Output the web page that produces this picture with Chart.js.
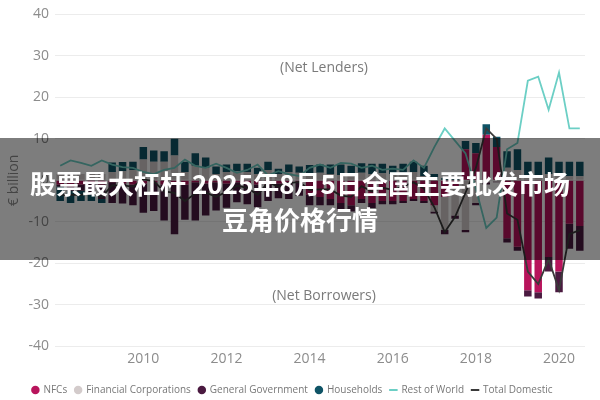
<!DOCTYPE html>
<html><head><meta charset="utf-8">
<script src="https://cdn.jsdelivr.net/npm/chart.js@4.4.1/dist/chart.umd.min.js"></script>
<style>
html,body{margin:0;padding:0;background:#fff;}
#wrap{position:relative;width:600px;height:400px;overflow:hidden;}
canvas{display:block;}
#band{position:absolute;left:0;top:138px;width:600px;height:122px;background:rgba(0,0,0,0.51);}
.t{position:absolute;left:0;width:600px;text-align:center;color:#fff;font-family:"Noto Sans CJK SC",sans-serif;font-weight:bold;font-size:26px;line-height:30px;white-space:nowrap;}
</style></head>
<body><div id="wrap"><canvas id="c" width="600" height="400"></canvas>
<div id="band"><div class="t" style="top:30px">股票最大杠杆 2025年8月5日全国主要批发市场</div><div class="t" style="top:66px">豆角价格行情</div></div></div>
<script>
const quarters = ['2008Q1','2008Q2','2008Q3','2008Q4','2009Q1','2009Q2','2009Q3','2009Q4',
'2010Q1','2010Q2','2010Q3','2010Q4','2011Q1','2011Q2','2011Q3','2011Q4',
'2012Q1','2012Q2','2012Q3','2012Q4','2013Q1','2013Q2','2013Q3','2013Q4',
'2014Q1','2014Q2','2014Q3','2014Q4','2015Q1','2015Q2','2015Q3','2015Q4',
'2016Q1','2016Q2','2016Q3','2016Q4','2017Q1','2017Q2','2017Q3','2017Q4',
'2018Q1','2018Q2','2018Q3','2018Q4','2019Q1','2019Q2','2019Q3','2019Q4',
'2020Q1','2020Q2','2020Q3'];
const tickYears = ['2010','2012','2014','2016','2018','2020'];
const nfcs = [-1.0,-1.5,-1.0,-0.5,-1.0,-0.5,-0.8,-1.0,
-0.8,-0.5,-1.0,-1.0,-1.0,-0.5,-0.8,-0.5,
-0.8,-0.5,-0.8,-1.0,-1.0,-0.8,-0.5,-0.5,
-3.5,-4.0,-4.5,-5.5,-6.0,-4.5,-5.5,-5.0,
-5.0,-5.0,-4.5,-5.0,-6.0,-4.0,-1.5,7.5,
6.5,11.0,8.0,-14.0,-16.0,-26.5,-27.0,-18.5,
-22.0,-10.5,-11.0];
const financial = [1.5,2.0,1.5,2.0,1.5,2.0,2.2,2.5,
5.0,4.5,4.5,6.0,2.0,3.5,3.0,1.5,
2.0,2.2,2.0,1.5,2.5,1.5,2.0,1.8,
1.5,1.8,1.5,1.3,1.5,1.8,1.5,1.7,
1.5,1.8,2.0,1.0,-1.5,-8.0,-7.0,-12.0,
-5.5,-0.5,-0.3,3.0,2.5,1.0,1.0,1.5,
1.0,1.0,1.0];
const government = [-0.5,-1.0,-1.5,-3.0,-3.5,-5.0,-4.8,-5.0,
-7.0,-6.9,-8.7,-12.0,-8.5,-9.2,-7.7,-6.8,
-5.8,-4.8,-5.0,-5.5,-4.0,-3.5,-4.0,-3.2,
-2.5,-2.0,-1.5,-2.0,-1.5,-1.0,-1.2,-0.8,
-0.8,-0.5,-0.5,-0.5,-0.5,-1.0,-0.8,-0.5,
-0.5,-0.5,-0.2,-1.0,-1.0,-1.5,-1.5,-3.5,
-5.0,-6.0,-6.0];
const households = [-3.5,-3.0,-2.5,-1.5,-1.0,2.3,2.2,2.0,
3.0,2.7,2.5,4.0,2.5,3.0,2.5,1.8,
1.8,1.8,2.0,1.5,2.0,1.3,1.8,1.5,
2.2,2.0,2.3,2.5,2.0,2.3,2.5,2.3,
2.0,2.2,2.5,2.5,1.5,0.5,0.5,2.0,
2.5,2.5,2.5,4.0,5.0,3.5,3.5,4.0,
3.5,3.5,3.5];
const restOfWorld = [3.5,4.8,4.2,3.5,4.8,3.8,3.2,3.0,
2.0,1.5,2.5,3.0,5.0,3.5,3.0,4.0,
3.0,1.8,2.5,3.8,1.2,2.2,1.5,1.0,
3.0,3.8,3.0,4.2,4.0,3.0,3.5,2.5,
2.8,2.5,4.8,3.0,8.0,12.5,9.5,6.5,
-2.0,-11.5,-9.0,7.5,9.0,24.0,25.0,17.0,
26.0,12.5,12.5];
const totalDomestic = [-3.5,-3.5,-3.5,-3.0,-4.0,-1.2,-1.2,-1.5,
0.2,-0.2,-2.7,-3.0,-5.0,-3.2,-3.0,-4.0,
-2.8,-1.3,-1.8,-3.5,-0.5,-1.5,-0.7,-0.4,
-2.3,-2.2,-2.2,-3.7,-4.0,-1.4,-2.7,-1.8,
-2.3,-1.5,-0.5,-2.0,-6.5,-12.5,-8.8,-3.0,
3.0,12.5,10.0,-8.0,-9.5,-22.0,-25.0,-19.0,
-26.5,-13.0,-12.0];
const noteLenders = {text:'(Net Lenders)', value:27};
const noteBorrowers = {text:'(Net Borrowers)', value:-28};

const notes = {id:'notes', afterDatasetsDraw(chart){
  const {ctx, chartArea, scales:{y}} = chart;
  ctx.save();
  ctx.font = '14px "Open Sans"';
  ctx.fillStyle = '#7a7a7a';
  ctx.textAlign = 'center'; ctx.textBaseline = 'middle';
  const cx = (chartArea.left + chartArea.right)/2 + 4;
  ctx.fillText(noteLenders.text, cx, y.getPixelForValue(noteLenders.value));
  ctx.fillText(noteBorrowers.text, cx, y.getPixelForValue(noteBorrowers.value));
  ctx.restore();
}};

const barCommon = {borderWidth:0, categoryPercentage:0.9, barPercentage:0.8};
const grey = '#8c8c8c';
new Chart(document.getElementById('c'), {
  type:'bar',
  data:{labels:quarters, datasets:[
    Object.assign({label:'NFCs', data:nfcs, backgroundColor:'#B8145C'}, barCommon),
    Object.assign({label:'Financial Corporations', data:financial, backgroundColor:'#D3CBCB'}, barCommon),
    Object.assign({label:'General Government', data:government, backgroundColor:'#4A1A40'}, barCommon),
    Object.assign({label:'Households', data:households, backgroundColor:'#0F5466'}, barCommon),
    {type:'line', label:'Rest of World', data:restOfWorld, borderColor:'#6CCFC5', backgroundColor:'#6CCFC5', borderWidth:1.8, pointRadius:0, tension:0, stack:'row', order:-1},
    {type:'line', label:'Total Domestic', data:totalDomestic, borderColor:'#3a3a3a', backgroundColor:'#3a3a3a', borderWidth:1.8, pointRadius:0, tension:0, stack:'td', order:-1}
  ]},
  options:{
    responsive:false, animation:false,
    layout:{padding:{top:6, right:15, left:0, bottom:-5}},
    plugins:{
      tooltip:{enabled:false},
      legend:{position:'bottom', labels:{
        font:{size:10, family:'"Open Sans"'}, color:'#777', usePointStyle:true, boxWidth:6, boxHeight:6, padding:8,
        sort:(a,b)=>a.datasetIndex-b.datasetIndex,
        generateLabels:(chart)=>{
          const items = Chart.defaults.plugins.legend.labels.generateLabels(chart);
          items.forEach(it=>{ const ds = chart.data.datasets[it.datasetIndex];
            if(ds.type==='line'){ it.pointStyle='line'; it.lineWidth=2; it.strokeStyle=ds.borderColor; }
            else { it.pointStyle='circle'; it.lineWidth=0; }
          });
          return items;
        }
      }}
    },
    scales:{
      x:{stacked:true, grid:{display:false, drawTicks:false}, border:{display:false},
        ticks:{autoSkip:false, maxRotation:0, padding:4, color:grey, font:{size:14, family:'"Open Sans"'},
          callback:(v,i)=>{ const l = quarters[i]; const yr = l.slice(0,4); return (l.endsWith('Q1') && tickYears.includes(yr)) ? yr : ''; }},
        afterFit:(s)=>{ s.height += 6; }},
      y:{stacked:true, min:-40, max:40, border:{display:false},
        grid:{color:'#ececec', drawTicks:false},
        ticks:{stepSize:10, color:grey, padding:6, font:{size:14, family:'"Open Sans"'}},
        title:{display:true, text:'€ billion', color:grey, font:{size:14, family:'"Open Sans"'}, padding:{top:6,bottom:0}},
        afterFit:(s)=>{ s.width = 55; }}
    }
  },
  plugins:[notes]
});
</script>
</body></html>
